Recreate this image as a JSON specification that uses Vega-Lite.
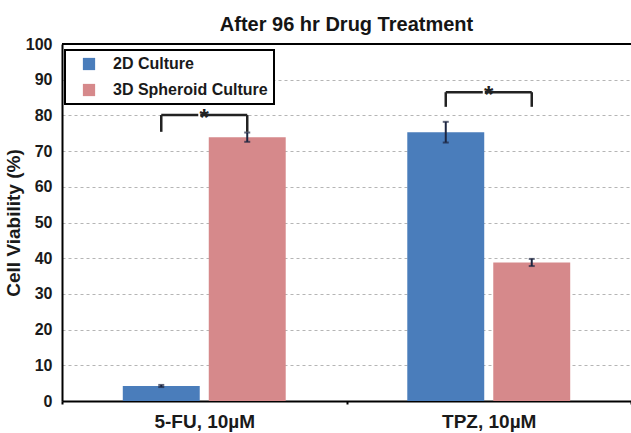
{
  "$schema": "https://vega.github.io/schema/vega-lite/v6.json",
  "width": 569,
  "height": 357,
  "autosize": {"type": "none"},
  "padding": {"left": 62, "top": 44, "right": 0, "bottom": 32},
  "background": "white",
  "config": {
    "font": "Liberation Sans",
    "view": {"stroke": null},
    "legend": {"strokeWidth": 2},
    "axisY": {"tickCount": 11}
  },
  "title": {"text": "After 96 hr Drug Treatment", "fontSize": 20, "fontWeight": "bold", "color": "#151515", "offset": 1, "anchor": "middle"},
  "datasets": {
    "bars": [
      {"drug": "5-FU, 10µM", "group": "2D Culture", "value": 4.2, "lo": 3.9, "hi": 4.5},
      {"drug": "5-FU, 10µM", "group": "3D Spheroid Culture", "value": 73.9, "lo": 72.6, "hi": 75.2},
      {"drug": "TPZ, 10µM", "group": "2D Culture", "value": 75.3, "lo": 72.4, "hi": 78.2},
      {"drug": "TPZ, 10µM", "group": "3D Spheroid Culture", "value": 38.8, "lo": 37.8, "hi": 39.8}
    ],
    "brackets": [
      {"drug": "5-FU, 10µM", "group": "2D Culture", "top": 80.1, "leg": 75.4},
      {"drug": "5-FU, 10µM", "group": "3D Spheroid Culture", "top": 80.1, "leg": 75.4},
      {"drug": "TPZ, 10µM", "group": "2D Culture", "top": 86.5, "leg": 82.4},
      {"drug": "TPZ, 10µM", "group": "3D Spheroid Culture", "top": 86.5, "leg": 82.4}
    ],
    "stars": [
      {"drug": "5-FU, 10µM", "top": 80.1, "label": "*"},
      {"drug": "TPZ, 10µM", "top": 86.5, "label": "*"}
    ]
  },
  "layer": [
    {
      "data": {"name": "bars"},
      "mark": {"type": "bar"},
      "encoding": {
        "x": {"field": "drug", "type": "nominal", "sort": null,
          "scale": {"paddingInner": 0, "paddingOuter": 0},
          "axis": {"title": null, "labelAngle": 0, "labelFontSize": 19, "labelFontWeight": "bold", "labelColor": "#1a1a1a", "labelPadding": 8, "domainColor": "black", "domainWidth": 2, "tickBand": "extent", "tickSize": 3, "tickColor": "black", "tickWidth": 2, "grid": false}},
        "xOffset": {"field": "group", "type": "nominal", "sort": null, "scale": {"paddingInner": 0.105, "paddingOuter": 0.707}},
        "y": {"field": "value", "type": "quantitative", "scale": {"domain": [0, 100], "nice": false},
          "axis": {"title": "Cell Viability (%)", "values": [0, 10, 20, 30, 40, 50, 60, 70, 80, 90, 100], "tickCount": 11, "titleFontSize": 19, "titleFontWeight": "bold", "titleColor": "#1a1a1a", "titlePadding": 2, "labelFontSize": 16, "labelFontWeight": "bold", "labelColor": "#1a1a1a", "labelPadding": 10, "ticks": false, "domainColor": "black", "domainWidth": 2, "gridColor": "#b5b5b5", "gridDash": [3, 3], "labelOverlap": false}},
        "color": {"field": "group", "type": "nominal", "sort": null,
          "scale": {"domain": ["2D Culture", "3D Spheroid Culture"], "range": ["#4a7dbb", "#d6898b"]},
          "legend": {"orient": "none", "legendX": 3, "legendY": 6, "title": null, "strokeColor": "black", "fillColor": "white", "padding": 6, "symbolType": "square", "symbolSize": 150, "symbolStrokeWidth": 0, "symbolOffset": 10, "labelFontSize": 16, "labelFontWeight": "bold", "labelColor": "#1a1a1a", "labelOffset": 16, "rowPadding": 10, "labelLimit": 300}}
      }
    },
    {
      "data": {"name": "bars"},
      "mark": {"type": "rule", "color": "#1c2540", "strokeWidth": 2},
      "encoding": {
        "x": {"field": "drug", "type": "nominal", "sort": null},
        "xOffset": {"field": "group", "type": "nominal", "sort": null},
        "y": {"field": "lo", "type": "quantitative"},
        "y2": {"field": "hi"}
      }
    },
    {
      "data": {"name": "bars"},
      "mark": {"type": "tick", "color": "#1c2540", "thickness": 2, "size": 6},
      "encoding": {
        "x": {"field": "drug", "type": "nominal", "sort": null},
        "xOffset": {"field": "group", "type": "nominal", "sort": null},
        "y": {"field": "hi", "type": "quantitative"}
      }
    },
    {
      "data": {"name": "bars"},
      "mark": {"type": "tick", "color": "#1c2540", "thickness": 2, "size": 6},
      "encoding": {
        "x": {"field": "drug", "type": "nominal", "sort": null},
        "xOffset": {"field": "group", "type": "nominal", "sort": null},
        "y": {"field": "lo", "type": "quantitative"}
      }
    },
    {
      "data": {"name": "brackets"},
      "transform": [{"filter": "datum.group === '2D Culture'"}],
      "mark": {"type": "rule", "color": "#222222", "strokeWidth": 2.5, "xOffset": -14},
      "encoding": {
        "x": {"field": "drug", "type": "nominal", "sort": null},
        "xOffset": {"field": "group", "type": "nominal", "sort": null},
        "y": {"field": "top", "type": "quantitative"},
        "y2": {"field": "leg"}
      }
    },
    {
      "data": {"name": "brackets"},
      "transform": [{"filter": "datum.group === '3D Spheroid Culture'"}],
      "mark": {"type": "rule", "color": "#222222", "strokeWidth": 2.5, "xOffset": 12},
      "encoding": {
        "x": {"field": "drug", "type": "nominal", "sort": null},
        "xOffset": {"field": "group", "type": "nominal", "sort": null},
        "y": {"field": "top", "type": "quantitative"},
        "y2": {"field": "leg"}
      }
    },
    {
      "data": {"name": "brackets"},
      "mark": {"type": "line", "color": "#222222", "strokeWidth": 2.5, "xOffset": -14, "strokeDash": [37, 300], "strokeCap": "butt"},
      "encoding": {
        "x": {"field": "drug", "type": "nominal", "sort": null},
        "xOffset": {"field": "group", "type": "nominal", "sort": null},
        "y": {"field": "top", "type": "quantitative"},
        "detail": {"field": "drug"}
      }
    },
    {
      "data": {"name": "brackets"},
      "mark": {"type": "line", "color": "#222222", "strokeWidth": 2.5, "xOffset": 12, "strokeDash": [0, 39, 48, 0], "strokeCap": "butt"},
      "encoding": {
        "x": {"field": "drug", "type": "nominal", "sort": null},
        "xOffset": {"field": "group", "type": "nominal", "sort": null},
        "y": {"field": "top", "type": "quantitative"},
        "detail": {"field": "drug"}
      }
    },
    {
      "data": {"name": "stars"},
      "mark": {"type": "text", "fontSize": 24, "fontWeight": "bold", "color": "#222222", "baseline": "middle", "dy": 4},
      "encoding": {
        "x": {"field": "drug", "type": "nominal", "sort": null},
        "y": {"field": "top", "type": "quantitative"},
        "text": {"field": "label"}
      }
    },
    {
      "data": {"values": [{}]},
      "mark": {"type": "rule", "color": "black", "strokeWidth": 2},
      "encoding": {"y": {"datum": 100}}
    }
  ]
}
